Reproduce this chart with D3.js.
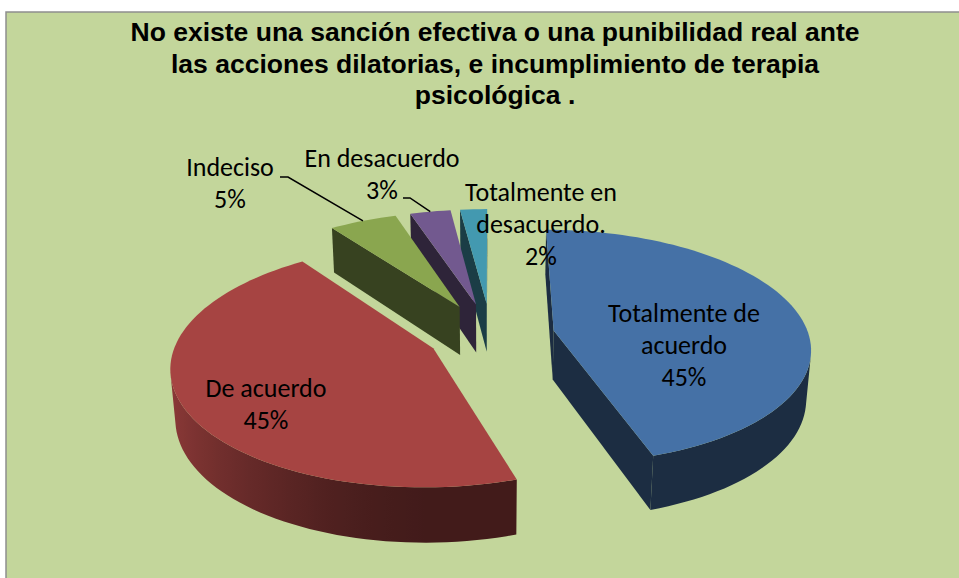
<!DOCTYPE html>
<html>
<head>
<meta charset="utf-8">
<script src="https://cdn.jsdelivr.net/npm/d3@7"></script>
<style>
  body { margin: 0; background: #fff; }
  svg { display: block; }
</style>
</head>
<body>
<svg id="chart" width="959" height="578"></svg>
<script>
// chart data
var titleLines = [
    "No existe una sanción efectiva o una punibilidad real ante",
    "las acciones dilatorias, e incumplimiento de terapia",
    "psicológica ."
];
var categories = ["Totalmente de acuerdo", "De acuerdo", "Indeciso", "En desacuerdo", "Totalmente en desacuerdo."];
var categoryLines = [["Totalmente de", "acuerdo"], ["De acuerdo"], ["Indeciso"], ["En desacuerdo"], ["Totalmente en", "desacuerdo."]];
var values = [45, 45, 5, 3, 2];
var colors = ["#4571a6", "#a64442", "#8aa64f", "#72598f", "#4399b0"];

// layout of the labels (center of first line) and leader line starts
var labelPos = [[684, 313], [266, 388], [230, 167], [382, 158], [541, 192]];
var leaderStart = [null, null, [[280, 177], [288, 177]], [[403, 198], [410, 198]], null];
var explode = [0.25, 0.25, 0.28, 0.28, 0.28];

var W = 959, H = 578;
var svg = d3.select("#chart");
var defs = svg.append("defs");

svg.append("rect")
    .attr("x", 6).attr("y", 12)
    .attr("width", W).attr("height", H)
    .attr("fill", "#c3d69b")
    .attr("stroke", "#8e8e8e")
    .attr("stroke-width", 1.5);

// title
svg.append("g").selectAll("text").data(titleLines).enter().append("text")
    .attr("x", 495)
    .attr("y", function (d, i) { return 32 + i * 31.5; })
    .attr("dy", "0.35em")
    .attr("text-anchor", "middle")
    .style("font-family", "'Liberation Sans', Arial, sans-serif")
    .style("font-weight", "bold")
    .style("font-size", "26.5px")
    .attr("fill", "#000")
    .text(function (d) { return d; });

// simple perspective camera for the 3D pie
var view = {cx: 491, cy: 335, f: 1645, D: 6.45, tilt: 27 * Math.PI / 180, h: 0.22};
var ct = Math.cos(view.tilt), st = Math.sin(view.tilt);

function toView(P) {
    return [P[0], P[1] * ct + P[2] * st, -P[1] * st + P[2] * ct + view.D];
}
function proj(P) {
    var v = toView(P);
    var s = view.f / v[2];
    return [view.cx + v[0] * s, view.cy - v[1] * s];
}
function facing(n, P) {
    var nv = [n[0], n[1] * ct + n[2] * st, -n[1] * st + n[2] * ct];
    var pv = toView(P);
    return nv[0] * pv[0] + nv[1] * pv[1] + nv[2] * pv[2] < 0;
}
function shade(c, k) {
    var r = d3.rgb(c);
    return d3.rgb(r.r * k, r.g * k, r.b * k).toString();
}

var arcs = d3.pie().sort(null).value(function (d) { return d; })(values);
arcs.forEach(function (p, i) {
    var mid = (p.startAngle + p.endAngle) / 2;
    p.i = i;
    p.ox = explode[i] * Math.sin(mid);
    p.oz = explode[i] * Math.cos(mid);
});

function pt(p, a, r, y) {
    return [p.ox + r * Math.sin(a), y, p.oz + r * Math.cos(a)];
}

var line = d3.line();
var pieG = svg.append("g");
var order = arcs.slice().sort(function (a, b) { return b.oz - a.oz; });

order.forEach(function (p) {
    var g = pieG.append("g");
    var col = colors[p.i];
    var a0 = p.startAngle, a1 = p.endAngle, hh = -view.h;

    // radial cut faces
    [[a0, a0 - Math.PI / 2], [a1, a1 + Math.PI / 2]].forEach(function (e) {
        var n = [Math.sin(e[1]), 0, Math.cos(e[1])];
        var quad = [pt(p, 0, 0, 0), pt(p, e[0], 1, 0), pt(p, e[0], 1, hh), pt(p, 0, 0, hh)];
        if (!facing(n, pt(p, e[0], 0.5, hh / 2))) return;
        g.append("path")
            .attr("d", line(quad.map(proj)) + "Z")
            .attr("fill", shade(col, 0.4));
    });

    // outer wall: the part that faces the camera, one shape with a gradient
    var steps = Math.max(2, Math.ceil((a1 - a0) / (Math.PI / 90)));
    var seen = [];
    for (var k = 0; k <= steps; k++) {
        var a = a0 + (a1 - a0) * k / steps;
        var n = [Math.sin(a), 0, Math.cos(a)];
        if (facing(n, pt(p, a, 1, hh / 2))) seen.push(a);
    }
    if (seen.length > 1) {
        var topPts = seen.map(function (a) { return proj(pt(p, a, 1, 0)); });
        var botPts = seen.map(function (a) { return proj(pt(p, a, 1, hh)); }).reverse();
        var xs = topPts.map(function (q) { return q[0]; });
        var x1 = d3.min(xs), x2 = d3.max(xs);
        var id = "wall" + p.i;
        var stops = seen.map(function (a, j) {
            var kk = 0.4 + 0.46 * Math.pow(Math.max(0, -Math.sin(a)), 1.5);
            return {o: (xs[j] - x1) / Math.max(1, x2 - x1), c: shade(col, kk)};
        }).sort(function (u, v) { return u.o - v.o; });
        defs.append("linearGradient")
            .attr("id", id)
            .attr("gradientUnits", "userSpaceOnUse")
            .attr("x1", x1).attr("y1", 0).attr("x2", x2).attr("y2", 0)
            .selectAll("stop").data(stops).enter().append("stop")
            .attr("offset", function (d) { return d.o; })
            .attr("stop-color", function (d) { return d.c; });
        g.append("path")
            .attr("d", line(topPts.concat(botPts)) + "Z")
            .attr("fill", "url(#" + id + ")");
    }

    // top face
    var top = [pt(p, 0, 0, 0)];
    for (k = 0; k <= steps; k++) top.push(pt(p, a0 + (a1 - a0) * k / steps, 1, 0));
    g.append("path")
        .attr("d", line(top.map(proj)) + "Z")
        .attr("fill", col);
});

// leader lines from label to the middle of the slice rim
var leaders = svg.append("g");
arcs.forEach(function (p, i) {
    if (!leaderStart[i]) return;
    var mid = (p.startAngle + p.endAngle) / 2;
    var end = proj(pt(p, mid, 1, 0));
    leaders.append("path")
        .attr("d", line(leaderStart[i].concat([end])))
        .attr("fill", "none")
        .attr("stroke", "#000")
        .attr("stroke-width", 1.5);
});

// data labels
var labels = svg.append("g")
    .style("font-family", "Carlito, Lato, 'Open Sans', sans-serif")
    .style("font-size", "26px")
    .attr("fill", "#000")
    .attr("text-anchor", "middle");

arcs.forEach(function (p, i) {
    var lines = categoryLines[i].concat([values[i] + "%"]);
    labels.append("g").selectAll("text").data(lines).enter().append("text")
        .attr("x", labelPos[i][0])
        .attr("y", function (d, j) { return labelPos[i][1] + j * 32; })
        .attr("dy", "0.35em")
        .text(function (d) { return d; });
});
</script>
</body>
</html>
